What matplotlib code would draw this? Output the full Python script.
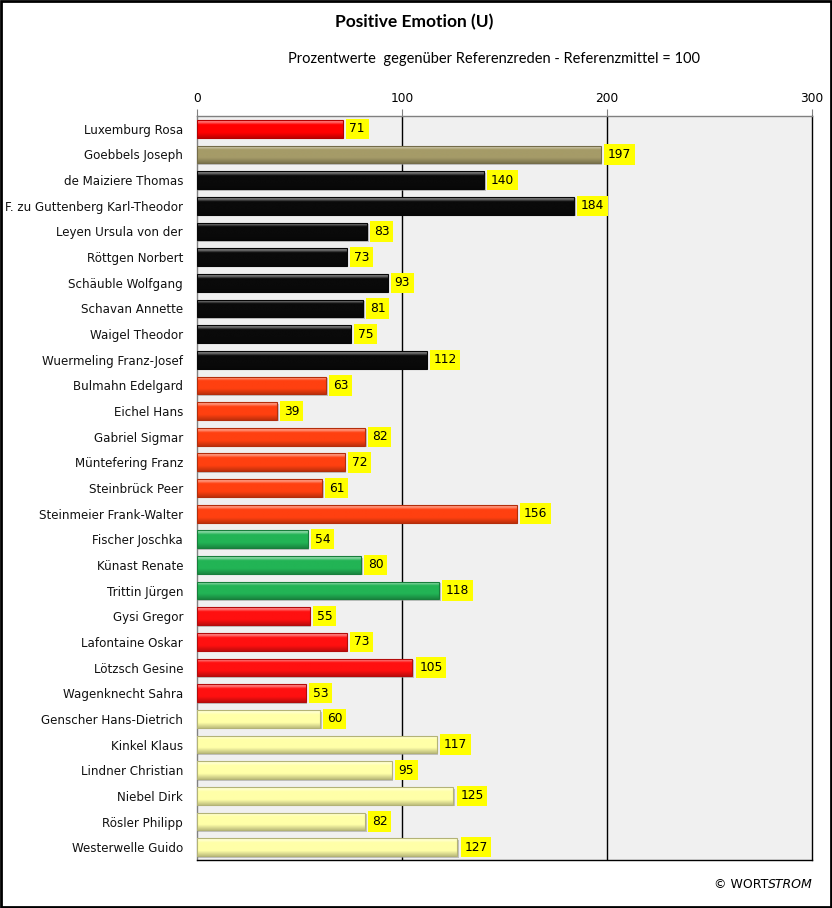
import numpy as np
import matplotlib
matplotlib.use("Agg")
import matplotlib.pyplot as plt
from matplotlib.colors import to_rgb
from matplotlib.patches import Rectangle

names = ["Luxemburg Rosa", "Goebbels Joseph", "de Maiziere Thomas",
         "F. zu Guttenberg Karl-Theodor", "Leyen Ursula von der", "Röttgen Norbert",
         "Schäuble Wolfgang", "Schavan Annette", "Waigel Theodor",
         "Wuermeling Franz-Josef", "Bulmahn Edelgard", "Eichel Hans",
         "Gabriel Sigmar", "Müntefering Franz", "Steinbrück Peer",
         "Steinmeier Frank-Walter", "Fischer Joschka", "Künast Renate",
         "Trittin Jürgen", "Gysi Gregor", "Lafontaine Oskar", "Lötzsch Gesine",
         "Wagenknecht Sahra", "Genscher Hans-Dietrich", "Kinkel Klaus",
         "Lindner Christian", "Niebel Dirk", "Rösler Philipp", "Westerwelle Guido"]
values = [71, 197, 140, 184, 83, 73, 93, 81, 75, 112, 63, 39, 82, 72, 61, 156,
          54, 80, 118, 55, 73, 105, 53, 60, 117, 95, 125, 82, 127]
group_sizes = [1, 1, 8, 6, 3, 4, 6]
group_colors = ["#ff0000", "#a59b68", "#0a0a0a", "#ff4010", "#22b455", "#ff1010", "#ffffa8"]
xticks = [0, 100, 200, 300]
title = "Positive Emotion (U)"
subtitle = "Prozentwerte  gegenüber Referenzreden - Referenzmittel = 100"

colors = []
for n, c in zip(group_sizes, group_colors):
    colors += [c] * n

fig = plt.figure(figsize=(8.32, 9.08), dpi=100)
ax = fig.add_axes([197/832, 1-860/908, (812-197)/832, (860-116)/908])
ax.set_facecolor("#f0f0f0")

y = np.arange(len(values))
h = 0.69

def grad_img(col):
    base = np.array(to_rgb(col))
    n = 64
    t = np.linspace(0, 1, n)
    rows = []
    for tt in t:
        if tt < 0.10:
            c = base + (1 - base) * 0.45
        elif tt < 0.25:
            f = (tt - 0.10) / 0.15
            c = base + (1 - base) * 0.45 * (1 - f)
        elif tt < 0.7:
            c = base
        else:
            f = (tt - 0.7) / 0.3
            c = base * (1 - 0.25 * f)
        rows.append(np.clip(c, 0, 1))
    return np.array(rows).reshape(n, 1, 3)

ax.set_xlim(0, 300)
ax.set_ylim(len(values) - 0.5, -0.5)

for yi, v, c in zip(y, values, colors):
    ax.barh(yi + 0.06, v + 0.8, height=h, color="#9a9a9a", alpha=0.55, zorder=2)
    bar = ax.barh(yi, v, height=h, color=c, edgecolor="none", zorder=3)[0]
    im = ax.imshow(grad_img(c), extent=[0, v, yi + h/2, yi - h/2], aspect="auto",
                   origin="upper", zorder=3, interpolation="bilinear")
    im.set_clip_path(bar)
    edge = np.array(to_rgb(c)) * 0.7
    ax.add_patch(Rectangle((0, yi - h/2), v, h, fill=False, edgecolor=edge, lw=0.8, zorder=4))
    ax.annotate(str(v), xy=(v, yi), xytext=(5, 0), textcoords="offset points",
                va="center", ha="left", fontsize=8.8, family="DejaVu Sans",
                bbox=dict(facecolor="#ffff00", edgecolor="none", pad=2.6), zorder=5)

ax.set_xlim(0, 300)
ax.set_ylim(len(values) - 0.5, -0.5)
ax.set_yticks(y)
ax.set_yticklabels(names, fontsize=8.6, family="DejaVu Sans", color="#111111")
ax.tick_params(axis="y", length=0, pad=10)
ax.xaxis.tick_top()
ax.set_xticks(xticks)
ax.set_xticklabels([str(t) for t in xticks], fontsize=8.8, family="DejaVu Sans")
ax.tick_params(axis="x", length=5, color="#808080", pad=3)
for xv in xticks[1:3]:
    ax.axvline(xv, color="black", lw=1, zorder=1)
ax.spines["top"].set_color("#808080")
ax.spines["left"].set_color("#808080")
ax.spines["right"].set_color("black")
ax.spines["bottom"].set_color("black")
for s in ax.spines.values():
    s.set_linewidth(1)

fig.text(414/832, 1-22/908, title, ha="center", va="center", fontsize=12.5,
         fontweight="bold", family="Lato")
fig.text(494/832, 1-59/908, subtitle, ha="center", va="center", fontsize=10.5, family="Lato")

t2 = fig.text(813/832, 1-884/908, "STROM", ha="right", va="center", fontsize=9,
              family="DejaVu Sans", style="italic")
fig.canvas.draw()
bb = t2.get_window_extent(renderer=fig.canvas.get_renderer())
fig.text(bb.x0 / fig.bbox.width, 1-884/908, "© WORT", ha="right", va="center", fontsize=9,
         family="DejaVu Sans")

fig.patches.append(Rectangle((0.001, 0.001), 0.998, 0.998, transform=fig.transFigure,
                             fill=False, edgecolor="black", lw=2))
fig.savefig("out.png", dpi=100)
